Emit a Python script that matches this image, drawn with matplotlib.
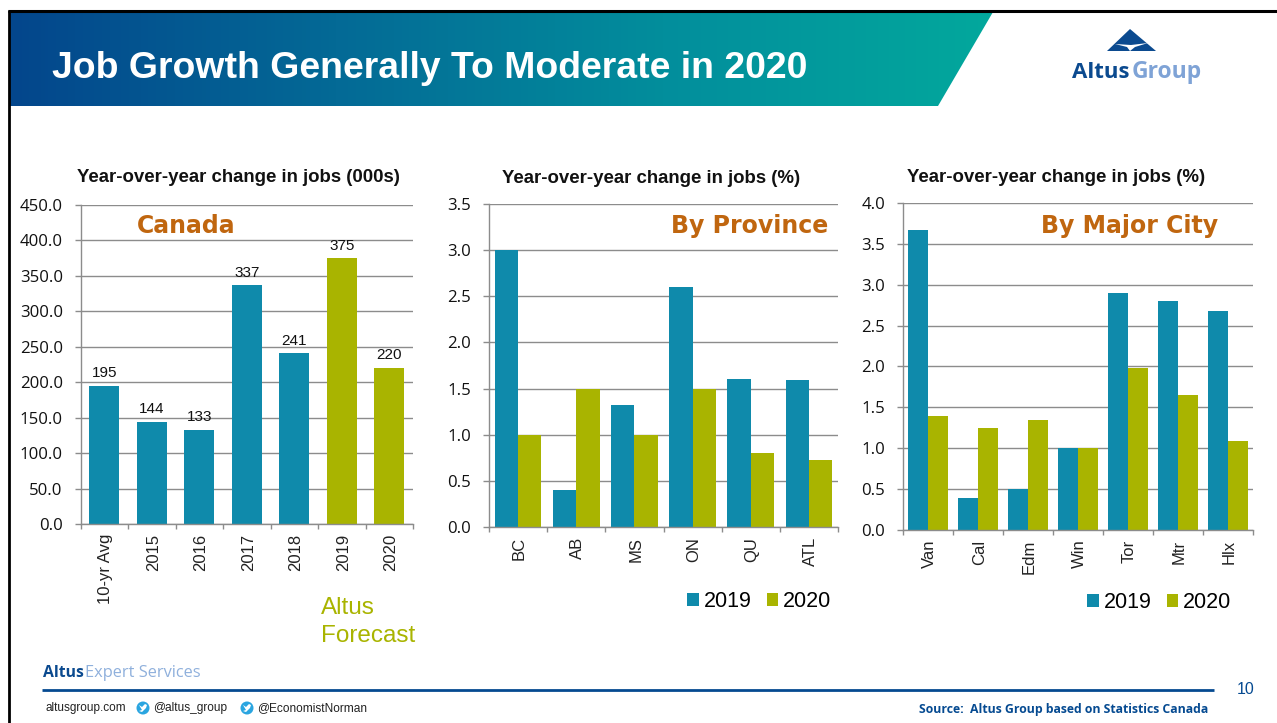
import numpy as np
import matplotlib
matplotlib.use("Agg")
import matplotlib.pyplot as plt
from matplotlib.patches import Polygon, Circle
from matplotlib.colors import LinearSegmentedColormap
from matplotlib.transforms import ScaledTranslation

W, H = 1277, 723

# ── Data ──────────────────────────────────────────────────────────────────────
canada_labels = ["10-yr Avg", "2015", "2016", "2017", "2018", "2019", "2020"]
canada_values = [195, 144, 133, 337, 241, 375, 220]
canada_forecast = [False, False, False, False, False, True, True]

prov_labels = ["BC", "AB", "MS", "ON", "QU", "ATL"]
prov_2019 = [3.0, 0.4, 1.32, 2.6, 1.6, 1.59]
prov_2020 = [1.0, 1.5, 1.0, 1.5, 0.8, 0.73]

city_labels = ["Van", "Cal", "Edm", "Win", "Tor", "Mtr", "Hlx"]
city_2019 = [3.67, 0.39, 0.5, 1.0, 2.9, 2.8, 2.68]
city_2020 = [1.39, 1.25, 1.35, 1.0, 1.98, 1.65, 1.09]

TEAL = "#0F8AAB"
OLIVE = "#A9B400"
ORANGE = "#C0660F"
GRID = "#8C8C8C"
NAVY = "#054A91"
SANS = "Liberation Sans"
TICK = "Open Sans"

fig = plt.figure(figsize=(W / 100, H / 100), dpi=100)


def px_axes(x0, y0, x1, y1):
    # axes from pixel box, y counted from the top
    return fig.add_axes([x0 / W, 1 - y1 / H, (x1 - x0) / W, (y1 - y0) / H])


# ── Page furniture ────────────────────────────────────────────────────────────
bg = fig.add_axes([0, 0, 1, 1])
bg.set_xlim(0, W)
bg.set_ylim(H, 0)
bg.axis("off")

banner_cmap = LinearSegmentedColormap.from_list(
    "banner", ["#03468C", "#046A96", "#028E9C", "#03A89C"])
grad = np.linspace(0, 1, 256).reshape(1, -1)
im = bg.imshow(grad, cmap=banner_cmap, extent=[10, 993, 106, 12], aspect="auto")
banner = Polygon([(10, 12), (993, 12), (938, 106), (10, 106)],
                 closed=True, fc="none", ec="none", transform=bg.transData)
bg.add_patch(banner)
im.set_clip_path(banner)
bg.set_xlim(0, W)
bg.set_ylim(H, 0)

bg.plot([9, 9], [10, H], color="black", lw=2, solid_capstyle="butt")
bg.plot([8, W], [11, 11], color="black", lw=2.2, solid_capstyle="butt")

bg.text(52, 68, "Job Growth Generally To Moderate in 2020", color="white",
        family=SANS, weight="bold", fontsize=26.9, va="center", ha="left")

# logo
bg.add_patch(Polygon([(1130, 29), (1156, 51), (1107, 51)], closed=True, fc="#0B4A8F", ec="none"))
bg.add_patch(Polygon([(1115, 44), (1131, 45), (1148, 43), (1135, 47), (1130, 51), (1127, 47)],
                     closed=True, fc="white", ec="none"))
bg.text(1072, 72, "Altus", color="#0B4A8F", family="Open Sans", weight="bold",
        fontsize=16, va="center", ha="left")
bg.text(1132, 72, "Group", color="#7FA3D6", family="Open Sans", weight="bold",
        fontsize=16.5, va="center", ha="left")

# footer
bg.text(43, 673, "Altus", color="#0B4A8F", family="Open Sans", weight="bold",
        fontsize=11.3, va="center", ha="left")
bg.text(85, 673, "Expert Services", color="#8FB0DC", family="Open Sans",
        fontsize=11.8, va="center", ha="left")
bg.plot([42, 1214], [690, 690], color=NAVY, lw=2, solid_capstyle="butt")
bg.text(45, 708, "altusgroup.com", color="#222222", family=SANS, fontsize=8.5, va="center")
bg.text(153, 708, "@altus_group", color="#222222", family=SANS, fontsize=8.6, va="center")
bg.text(257, 708, "@EconomistNorman", color="#222222", family=SANS, fontsize=8.6, va="center")
for cx in [143, 247]:
    bg.add_patch(Circle((cx, 708), 6.5, fc="#2AA5E0", ec="none"))
    bg.add_patch(Polygon([(cx - 4, 705), (cx - 1, 707), (cx + 2, 704), (cx + 4, 705),
                          (cx + 3, 708), (cx - 1, 712), (cx - 4, 711), (cx - 1, 710)],
                         closed=True, fc="white", ec="none"))
bg.text(1208, 709, "Source:  Altus Group based on Statistics Canada", color=NAVY,
        family="Open Sans", weight="bold", fontsize=8.85, va="center", ha="right")
bg.text(1254, 690, "10", color=NAVY, family=SANS, fontsize=11.5, va="center", ha="right")


def style_axes(ax, ymax, ystep, labels):
    ax.set_xlim(-0.5, len(labels) - 0.5)
    ax.set_ylim(0, ymax)
    ax.set_yticks(np.arange(0, ymax + ystep / 2, ystep))
    ax.set_yticklabels([f"{v:.1f}" for v in np.arange(0, ymax + ystep / 2, ystep)],
                       family=TICK, fontsize=12.1, color="#111111")
    ax.set_xticks(np.arange(len(labels)))
    ax.set_xticklabels(labels, rotation=90, family=SANS, fontsize=12, color="#222222")
    # tick marks sit on the category boundaries
    ax.set_xticks(np.arange(len(labels) + 1) - 0.5, minor=True)
    ax.tick_params(axis="x", which="major", length=0, pad=7)
    ax.tick_params(axis="x", which="minor", length=3.5, color=GRID, width=1)
    ax.tick_params(axis="y", length=4.3, color=GRID, width=1, pad=8.5)
    ax.grid(axis="y", color=GRID, lw=1)
    ax.set_axisbelow(True)
    for s in ["top", "right"]:
        ax.spines[s].set_visible(False)
    for s in ["left", "bottom"]:
        ax.spines[s].set_color(GRID)
        ax.spines[s].set_linewidth(1)
    # rotated labels sit a bit left of centre otherwise
    shift = ScaledTranslation(1.0 / 72, 0, fig.dpi_scale_trans)
    for t in ax.get_xticklabels():
        t.set_transform(t.get_transform() + shift)


def grouped(ax, labels, s2019, s2020):
    x = np.arange(len(labels))
    ax.bar(x - 0.2, s2019, 0.4, color=TEAL, label="2019")
    ax.bar(x + 0.2, s2020, 0.4, color=OLIVE, label="2020")
    ax.legend(loc="upper left", frameon=False, ncol=2, prop={"family": SANS, "size": 15.5},
              handlelength=0.55, handleheight=0.55, handletextpad=0.22, columnspacing=0.7,
              borderpad=0, borderaxespad=0)


def heading(ax, x, y, text, **kw):
    # drawn on the chart axes so it stays above the gridlines
    ax.text(x, y, text, transform=bg.transData, clip_on=False, family="DejaVu Sans",
            weight="bold", fontsize=17, color=ORANGE, va="center", **kw)


# ── Canada ────────────────────────────────────────────────────────────────────
ax1 = px_axes(80.5, 205, 413, 524)
style_axes(ax1, 450, 50, canada_labels)
colors = [OLIVE if f else TEAL for f in canada_forecast]
bars = ax1.bar(range(len(canada_values)), canada_values, 0.63, color=colors)
ax1.bar_label(bars, labels=[str(v) for v in canada_values], padding=4,
              family=SANS, fontsize=11, color="#111111")
bg.text(238.5, 178, "Year-over-year change in jobs (000s)", family=SANS, weight="bold",
        fontsize=13.4, ha="center", va="center", color="#111111")
heading(ax1, 186, 226, "Canada", ha="center")
bg.text(321, 608, "Altus", family=SANS, fontsize=17.5, color=OLIVE, va="center")
bg.text(321, 636, "Forecast", family=SANS, fontsize=17.5, color=OLIVE, va="center")

# ── Province ──────────────────────────────────────────────────────────────────
ax2 = px_axes(489, 204, 838, 527)
style_axes(ax2, 3.5, 0.5, prov_labels)
grouped(ax2, prov_labels, prov_2019, prov_2020)
ax2.get_legend().set_bbox_to_anchor((687 / W, 1 - 591 / H), transform=fig.transFigure)
bg.text(651, 178.5, "Year-over-year change in jobs (%)", family=SANS, weight="bold",
        fontsize=13.4, ha="center", va="center", color="#111111")
heading(ax2, 828, 226, "By Province", ha="right")

# ── Major city ────────────────────────────────────────────────────────────────
ax3 = px_axes(903, 203, 1253, 530)
style_axes(ax3, 4.0, 0.5, city_labels)
grouped(ax3, city_labels, city_2019, city_2020)
ax3.get_legend().set_bbox_to_anchor((1087 / W, 1 - 592 / H), transform=fig.transFigure)
bg.text(1056, 178, "Year-over-year change in jobs (%)", family=SANS, weight="bold",
        fontsize=13.4, ha="center", va="center", color="#111111")
heading(ax3, 1218, 226, "By Major City", ha="right")

fig.savefig("out.png", dpi=100)
